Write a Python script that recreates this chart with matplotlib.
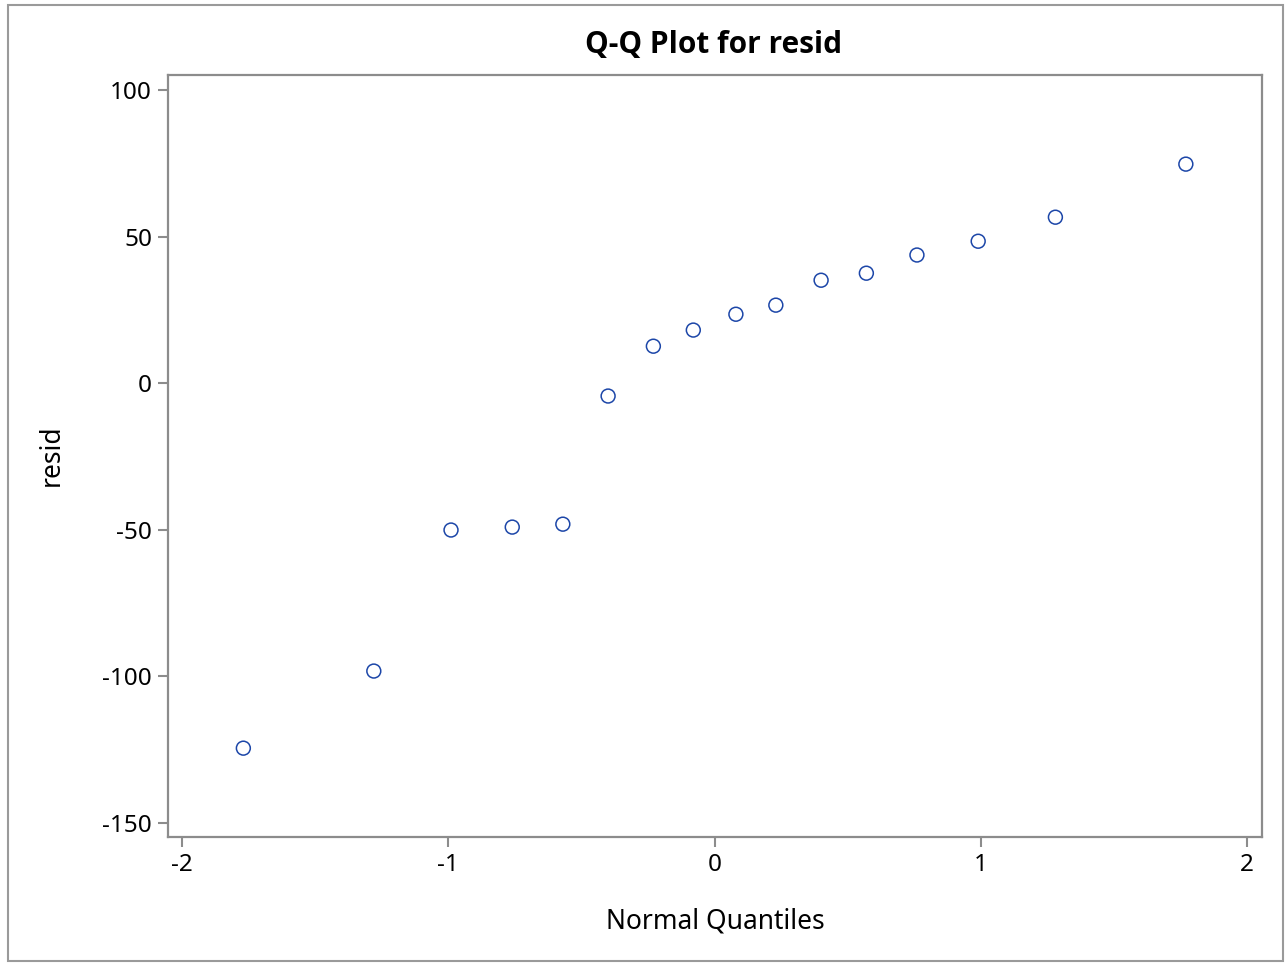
import matplotlib.pyplot as plt
from matplotlib.patches import Rectangle

plt.rcParams['font.family'] = ['Noto Sans', 'DejaVu Sans']

# normal quantiles (x) and residuals (y)
quantiles = [-1.77, -1.28, -0.99, -0.76, -0.57, -0.40, -0.23, -0.08,
             0.08, 0.23, 0.40, 0.57, 0.76, 0.99, 1.28, 1.77]
resid = [-124.5, -98.2, -50.1, -49.1, -48.1, -4.4, 12.6, 18.1,
         23.5, 26.6, 35.1, 37.5, 43.7, 48.4, 56.6, 74.7]

x_ticks = [-2, -1, 0, 1, 2]
y_ticks = [-150, -100, -50, 0, 50, 100]

W, H = 1285, 963
fig = plt.figure(figsize=(W / 100, H / 100), dpi=100)

# outer frame around the whole graph
fig.patches.append(Rectangle((8 / W, 1 - 961 / H), 1275 / W, 956 / H,
                             transform=fig.transFigure, fill=False,
                             edgecolor='#9a9a9a', linewidth=1.5))

ax = fig.add_axes([168 / W, 1 - 837 / H, (1262 - 168) / W, (837 - 75) / H])
ax.scatter(quantiles, resid, s=100, facecolors='none', edgecolors='#1c46a8',
           linewidths=1.1, zorder=3)

ax.set_xlim(-2.053, 2.056)
ax.set_ylim(-154.8, 105.1)
ax.set_xticks(x_ticks)
ax.set_yticks(y_ticks)
ax.set_xticklabels([str(v) for v in x_ticks])
ax.set_yticklabels([str(v) for v in y_ticks])

for s in ax.spines.values():
    s.set_color('#8c8c8c')
    s.set_linewidth(1.6)
ax.tick_params(axis='both', length=7.5, width=1.5, color='#8c8c8c',
               labelsize=17.5, pad=4, labelcolor='black')

fig.text(714 / W, 1 - 45 / H, 'Q-Q Plot for resid', ha='center', va='center',
         fontsize=21.5, fontweight='bold', family=['Open Sans', 'DejaVu Sans'])
fig.text(715 / W, 1 - 921 / H, 'Normal Quantiles', ha='center', va='center',
         fontsize=19)
fig.text(52 / W, 1 - 455 / H, 'resid', ha='center', va='center',
         rotation=90, fontsize=19)

plt.savefig('out.png', dpi=100)
